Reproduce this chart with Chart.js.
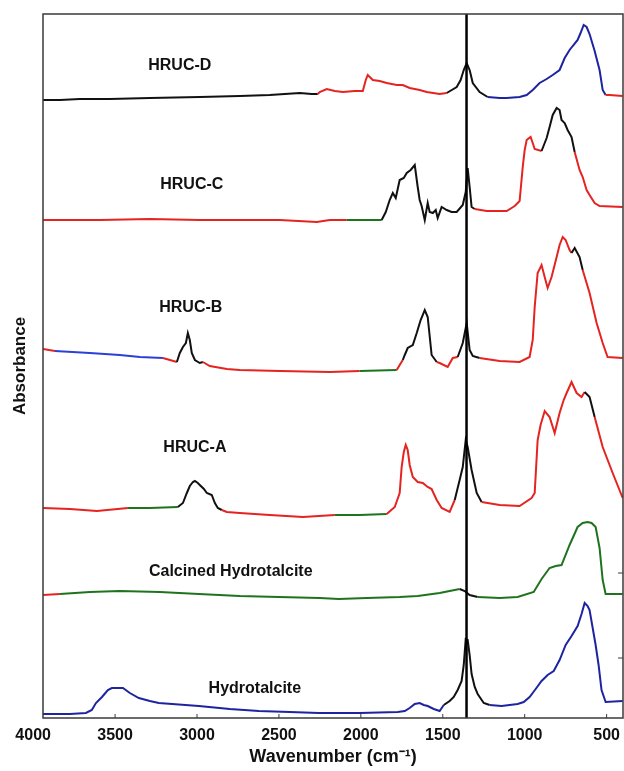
<!DOCTYPE html>
<html>
<head>
<meta charset="utf-8">
<title>FTIR spectra</title>
<script src="https://cdn.jsdelivr.net/npm/chart.js@4.4.1/dist/chart.umd.min.js"></script>
<style>
    html, body { margin: 0; padding: 0; background: #fff; }
    #wrap { width: 624px; height: 771px; position: relative; }
</style>
</head>
<body>
<div id="wrap"><canvas id="ftirChart"></canvas></div>
<script>
// wavenumber (cm-1) / absorbance (offset, a.u.)
const hrucDWavenumber = [3940, 3837, 3715, 3532, 3288, 2983, 2739, 2556, 2373, 2300, 2263, 2251, 2208, 2159, 2110, 2037, 1988, 1970, 1958, 1927, 1885, 1842, 1781, 1744, 1702, 1641, 1598, 1519, 1476, 1415, 1391, 1372, 1354, 1336, 1317, 1275, 1226, 1153, 1110, 1031, 988, 951, 909, 866, 829, 787, 756, 726, 707, 677, 659, 640, 622, 604, 573, 543, 524, 506, 482, 402];
const hrucDAbsorbance = [6.18, 6.18, 6.19, 6.19, 6.20, 6.21, 6.22, 6.23, 6.25, 6.24, 6.24, 6.26, 6.29, 6.27, 6.26, 6.27, 6.27, 6.38, 6.43, 6.38, 6.37, 6.35, 6.33, 6.33, 6.30, 6.28, 6.26, 6.24, 6.25, 6.31, 6.38, 6.48, 6.55, 6.48, 6.35, 6.26, 6.21, 6.20, 6.20, 6.21, 6.23, 6.28, 6.35, 6.39, 6.43, 6.48, 6.60, 6.68, 6.72, 6.78, 6.85, 6.93, 6.91, 6.84, 6.67, 6.48, 6.28, 6.23, 6.23, 6.22];

const hrucCWavenumber = [3940, 3593, 3288, 2983, 2739, 2495, 2269, 2190, 2086, 1976, 1873, 1848, 1824, 1805, 1787, 1763, 1738, 1720, 1696, 1671, 1653, 1641, 1629, 1610, 1592, 1580, 1561, 1543, 1531, 1507, 1476, 1446, 1415, 1378, 1360, 1348, 1336, 1324, 1305, 1232, 1153, 1110, 1061, 1031, 1012, 1000, 988, 964, 951, 939, 897, 866, 848, 829, 805, 787, 775, 756, 738, 714, 695, 665, 646, 622, 604, 573, 543, 402];
const hrucCAbsorbance = [4.98, 4.98, 4.99, 4.98, 4.98, 4.98, 4.96, 4.98, 4.98, 4.98, 4.98, 5.06, 5.18, 5.25, 5.20, 5.38, 5.40, 5.45, 5.48, 5.53, 5.31, 5.18, 5.12, 4.98, 5.15, 5.06, 5.05, 5.08, 5.00, 5.11, 5.08, 5.06, 5.06, 5.13, 5.26, 5.50, 5.31, 5.11, 5.09, 5.07, 5.07, 5.07, 5.12, 5.17, 5.51, 5.68, 5.78, 5.81, 5.75, 5.69, 5.67, 5.80, 5.91, 6.03, 6.10, 6.08, 5.98, 5.95, 5.88, 5.81, 5.66, 5.48, 5.41, 5.28, 5.23, 5.15, 5.12, 5.11];

const hrucBWavenumber = [3940, 3867, 3654, 3471, 3349, 3208, 3123, 3105, 3086, 3068, 3056, 3044, 3032, 3013, 2983, 2964, 2922, 2818, 2739, 2495, 2190, 2007, 1781, 1763, 1744, 1732, 1714, 1683, 1659, 1635, 1610, 1592, 1568, 1537, 1519, 1470, 1439, 1409, 1378, 1354, 1336, 1317, 1275, 1153, 1031, 970, 951, 939, 921, 897, 878, 860, 836, 805, 787, 768, 750, 726, 714, 695, 665, 646, 604, 561, 524, 494, 402];
const hrucBAbsorbance = [3.69, 3.67, 3.65, 3.63, 3.61, 3.60, 3.56, 3.65, 3.71, 3.75, 3.85, 3.78, 3.65, 3.58, 3.55, 3.56, 3.52, 3.49, 3.48, 3.47, 3.46, 3.47, 3.48, 3.53, 3.58, 3.63, 3.70, 3.73, 3.85, 3.98, 4.08, 4.01, 3.63, 3.56, 3.55, 3.51, 3.60, 3.61, 3.75, 3.95, 3.68, 3.62, 3.60, 3.57, 3.56, 3.61, 3.78, 4.11, 4.45, 4.53, 4.41, 4.30, 4.41, 4.61, 4.73, 4.81, 4.78, 4.68, 4.65, 4.70, 4.61, 4.48, 4.25, 3.95, 3.75, 3.61, 3.60];

const hrucAWavenumber = [3940, 3776, 3611, 3422, 3288, 3117, 3086, 3062, 3044, 3025, 3013, 2995, 2983, 2958, 2940, 2910, 2891, 2873, 2849, 2818, 2739, 2556, 2354, 2159, 2007, 1842, 1793, 1763, 1751, 1738, 1726, 1714, 1702, 1683, 1653, 1622, 1592, 1568, 1537, 1507, 1458, 1427, 1397, 1378, 1360, 1348, 1324, 1293, 1263, 1153, 1031, 958, 939, 921, 903, 878, 848, 817, 787, 762, 744, 714, 683, 653, 634, 604, 573, 524, 463, 402];
const hrucAAbsorbance = [2.10, 2.09, 2.07, 2.10, 2.10, 2.11, 2.15, 2.25, 2.32, 2.36, 2.37, 2.35, 2.33, 2.29, 2.25, 2.23, 2.15, 2.10, 2.08, 2.06, 2.05, 2.03, 2.01, 2.03, 2.03, 2.04, 2.11, 2.25, 2.51, 2.66, 2.73, 2.68, 2.53, 2.41, 2.36, 2.35, 2.31, 2.29, 2.18, 2.10, 2.06, 2.18, 2.38, 2.51, 2.78, 2.71, 2.48, 2.25, 2.16, 2.13, 2.12, 2.20, 2.25, 2.78, 2.93, 3.07, 3.01, 2.85, 3.05, 3.18, 3.25, 3.36, 3.25, 3.21, 3.26, 3.21, 3.01, 2.71, 2.45, 2.20];

const calcinedWavenumber = [3940, 3837, 3654, 3471, 3227, 2989, 2739, 2501, 2251, 2135, 1964, 1763, 1653, 1519, 1397, 1366, 1336, 1287, 1153, 1043, 945, 897, 848, 811, 775, 726, 677, 646, 616, 592, 567, 543, 524, 506, 402];
const calcinedAbsorbance = [1.23, 1.24, 1.26, 1.27, 1.26, 1.24, 1.22, 1.21, 1.20, 1.19, 1.20, 1.21, 1.22, 1.25, 1.29, 1.27, 1.23, 1.21, 1.20, 1.21, 1.26, 1.39, 1.50, 1.52, 1.53, 1.73, 1.91, 1.95, 1.96, 1.95, 1.91, 1.70, 1.38, 1.24, 1.24];

const hydrotalciteWavenumber = [3940, 3776, 3678, 3642, 3617, 3580, 3544, 3520, 3483, 3452, 3410, 3355, 3288, 3233, 2989, 2800, 2623, 2434, 2257, 2007, 1775, 1732, 1702, 1671, 1641, 1616, 1592, 1555, 1519, 1494, 1458, 1433, 1409, 1385, 1372, 1360, 1348, 1336, 1324, 1305, 1287, 1250, 1214, 1141, 1043, 1006, 970, 933, 897, 860, 823, 787, 750, 714, 677, 653, 634, 616, 604, 585, 567, 549, 531, 506, 402];
const hydrotalciteAbsorbance = [0.04, 0.04, 0.05, 0.08, 0.15, 0.21, 0.28, 0.30, 0.30, 0.30, 0.25, 0.20, 0.17, 0.15, 0.12, 0.09, 0.07, 0.06, 0.05, 0.05, 0.06, 0.07, 0.10, 0.14, 0.15, 0.13, 0.12, 0.09, 0.07, 0.13, 0.17, 0.21, 0.28, 0.37, 0.53, 0.79, 0.78, 0.63, 0.44, 0.31, 0.24, 0.15, 0.13, 0.12, 0.14, 0.16, 0.21, 0.29, 0.37, 0.43, 0.47, 0.58, 0.73, 0.82, 0.92, 1.04, 1.15, 1.12, 1.08, 0.90, 0.73, 0.53, 0.28, 0.16, 0.17];

const seriesNames = ['HRUC-D', 'HRUC-C', 'HRUC-B', 'HRUC-A', 'Calcined Hydrotalcite', 'Hydrotalcite'];
const labelWavenumber = [3105, 3032, 3038, 3013, 2794, 2647];
const labelAbsorbance = [6.52, 5.33, 4.10, 2.70, 1.46, 0.29];

const xTickValues = [500, 1000, 1500, 2000, 2500, 3000, 3500, 4000];
const rightTickValues = [0.60, 1.45];
const markerWavenumber = 1355;
const wnMin = 400, wnMax = 3940;
const absMin = 0, absMax = 7.04;

const K = '#111111', R = '#e5231f', G = '#1e741e', N = '#1e24a0', B = '#2c3fd6';
const FONT = "'Liberation Sans', Arial, sans-serif";

// [lower wavenumber bound, colour], scanned from high to low wavenumber
const colourBands = [
    [[2260, K], [1480, R], [1230, K], [510, N], [-1, R]],
    [[2086, R], [1873, G], [1305, K], [910, R], [700, K], [-1, R]],
    [[3867, R], [3208, B], [3123, R], [2964, K], [2007, R], [1781, G], [1744, R], [1537, K], [1420, R], [1280, K], [710, R], [650, K], [-1, R]],
    [[3422, R], [3117, G], [2849, K], [2159, R], [1842, G], [1430, R], [1270, K], [640, R], [580, K], [-1, R]],
    [[3830, R], [1420, G], [1300, K], [-1, G]],
    [[1505, N], [1230, K], [-1, N]]
];

function bandColour(bands) {
    return ctx => {
        const mid = (ctx.p0.parsed.x + ctx.p1.parsed.x) / 2;
        const band = bands.find(b => mid >= b[0]);
        return band ? band[1] : bands[bands.length - 1][1];
    };
}

function toPoints(wn, abs) {
    return wn.map((w, i) => ({ x: w, y: abs[i] }));
}

const spectra = [
    [hrucDWavenumber, hrucDAbsorbance],
    [hrucCWavenumber, hrucCAbsorbance],
    [hrucBWavenumber, hrucBAbsorbance],
    [hrucAWavenumber, hrucAAbsorbance],
    [calcinedWavenumber, calcinedAbsorbance],
    [hydrotalciteWavenumber, hydrotalciteAbsorbance]
];

const framePlugin = {
    id: 'frame',
    afterDatasetsDraw(chart) {
        const { ctx, chartArea: a, scales: { x, y } } = chart;
        ctx.save();
        ctx.strokeStyle = '#3a3a3a';
        ctx.lineWidth = 1.5;
        ctx.strokeRect(a.left, a.top, a.right - a.left, a.bottom - a.top);

        // small inward tick marks
        ctx.lineWidth = 1;
        xTickValues.filter(v => v >= wnMin && v <= wnMax).forEach(v => {
            const px = x.getPixelForValue(v);
            ctx.beginPath();
            ctx.moveTo(px, a.bottom);
            ctx.lineTo(px, a.bottom - 4);
            ctx.stroke();
        });
        rightTickValues.forEach(v => {
            const py = y.getPixelForValue(v);
            ctx.beginPath();
            ctx.moveTo(a.right, py);
            ctx.lineTo(a.right - 5, py);
            ctx.stroke();
        });
        ctx.restore();
    }
};

const labelPlugin = {
    id: 'seriesLabels',
    afterDatasetsDraw(chart) {
        const { ctx, scales: { x, y } } = chart;
        ctx.save();
        ctx.fillStyle = '#111';
        ctx.font = `bold 16px ${FONT}`;
        ctx.textAlign = 'center';
        ctx.textBaseline = 'middle';
        seriesNames.forEach((name, i) => {
            ctx.fillText(name, x.getPixelForValue(labelWavenumber[i]), y.getPixelForValue(labelAbsorbance[i]));
        });
        ctx.restore();
    }
};

const datasets = spectra.map(([wn, abs], i) => ({
    label: seriesNames[i],
    data: toPoints(wn, abs),
    borderColor: colourBands[i][0][1],
    segment: { borderColor: bandColour(colourBands[i]) },
    borderWidth: 2,
    pointRadius: 0,
    tension: 0,
    order: 1
}));

datasets.push({
    label: 'marker',
    data: [{ x: markerWavenumber, y: absMin }, { x: markerWavenumber, y: absMax }],
    borderColor: '#000',
    borderWidth: 2.5,
    pointRadius: 0,
    order: 0
});

const chart = new Chart(document.getElementById('ftirChart'), {
    type: 'line',
    data: { datasets },
    options: {
        responsive: true,
        maintainAspectRatio: false,
        animation: false,
        layout: { padding: { top: 14, right: 1, bottom: 3, left: 4 } },
        plugins: { legend: { display: false }, tooltip: { enabled: false } },
        scales: {
            x: {
                type: 'linear',
                reverse: true,
                min: wnMin,
                max: wnMax,
                afterBuildTicks: scale => { scale.ticks = xTickValues.map(value => ({ value })); },
                // labels sit inside the frame except "4000", so no extra side padding
                afterFit: scale => { scale.paddingLeft = 0; scale.paddingRight = 0; scale.height = 50; },
                ticks: {
                    callback: v => String(v),
                    color: '#111',
                    font: { family: FONT, size: 16, weight: 'bold' },
                    padding: 8,
                    autoSkip: false,
                    maxRotation: 0
                },
                grid: { display: false, drawTicks: false },
                border: { display: false },
                title: {
                    display: true,
                    text: 'Wavenumber (cm\u207B\u00B9)',
                    color: '#111',
                    font: { family: FONT, size: 18, weight: 'bold' },
                    padding: { top: 2, bottom: 0 }
                }
            },
            y: {
                type: 'linear',
                min: absMin,
                max: absMax,
                afterFit: scale => { scale.width = 39; },
                ticks: { display: false },
                grid: { display: false, drawTicks: false },
                border: { display: false },
                title: {
                    display: true,
                    text: 'Absorbance',
                    color: '#111',
                    font: { family: FONT, size: 17, weight: 'bold' },
                    padding: { top: 6, bottom: 4 }
                }
            }
        }
    },
    plugins: [framePlugin, labelPlugin]
});
</script>
</body>
</html>
